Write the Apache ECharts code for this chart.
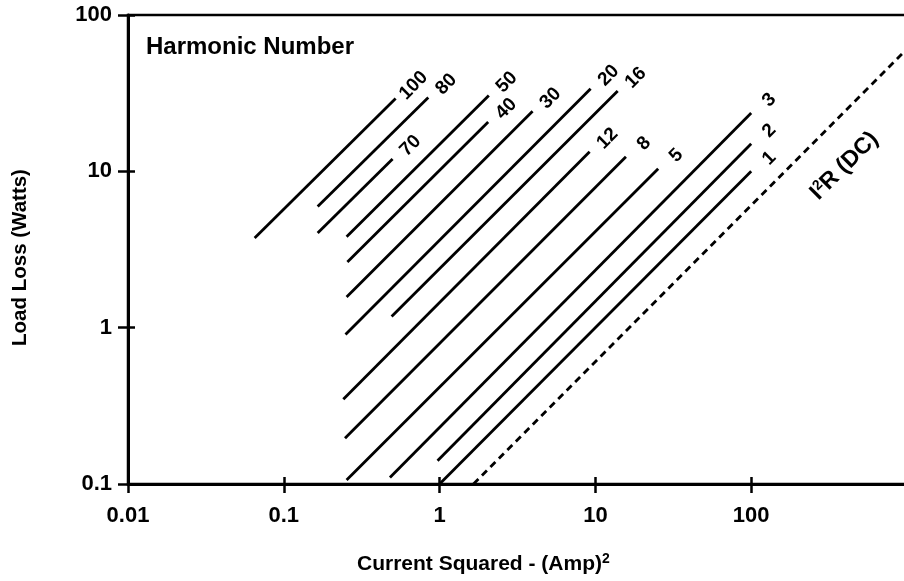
<!DOCTYPE html>
<html><head><meta charset="utf-8">
<script src="https://cdn.jsdelivr.net/npm/echarts@6/dist/echarts.min.js"></script>
<style>html,body{margin:0;padding:0;background:#fff}#c{width:904px;height:581px}</style>
</head><body><div id="c"></div>
<script>
// Harmonic-number lines, each a straight segment on log-log axes
const harmonics = ['100','80','70','50','40','30','20','16','12','8','5','3','2','1'];
const startX = [0.065, 0.165, 0.165, 0.253, 0.256, 0.253, 0.249, 0.492, 0.241, 0.247, 0.253, 0.48, 0.97, 1.0];
const startY = [3.74, 5.96, 4.03, 3.81, 2.63, 1.57, 0.903, 1.18, 0.349, 0.196, 0.106, 0.110, 0.141, 0.1];
const endX   = [0.522, 0.846, 0.499, 2.07, 2.05, 3.95, 9.32, 13.9, 9.18, 15.7, 25.3, 100, 100, 100];
const endY   = [29.2, 29.7, 12.0, 30.6, 20.7, 24.2, 33.8, 32.7, 13.35, 12.4, 10.4, 23.6, 15.0, 10.0];
// I^2R (DC) dashed line
const dcX = [1.65, 266, 1000];
const dcY = [0.1, 16.1, 60.7];
// Axis ranges / ticks
const xTicks = [0.01, 0.1, 1, 10, 100, 1000];
const xTickLabels = ['0.01', '0.1', '1', '10', '100', ''];
const yTicks = [0.1, 1, 10, 100];
const yTickLabels = ['0.1', '1', '10', '100'];

const FONT = '"Liberation Sans", Arial, Helvetica, sans-serif';
const chart = echarts.init(document.getElementById('c'));

function labelFor(list, labels, v) {
  for (let i = 0; i < list.length; i++) {
    if (Math.abs(Math.log10(v) - Math.log10(list[i])) < 1e-6) return labels[i];
  }
  return '';
}

const series = harmonics.map((h, i) => ({
  type: 'line', name: h, animation: false, silent: true,
  symbol: 'circle', symbolSize: 0, showSymbol: true,
  lineStyle: { color: '#000', width: 2.8 },
  itemStyle: { color: 'transparent' },
  data: [
    [startX[i], startY[i]],
    { value: [endX[i], endY[i]],
      label: { show: true, formatter: h, position: 'inside', rotate: 45,
               align: 'center', verticalAlign: 'middle', offset: [22, 3.5],
               color: '#000', fontFamily: FONT, fontWeight: 'bold', fontSize: 19 } }
  ]
}));

series.push({
  type: 'line', name: 'I2R (DC)', animation: false, silent: true,
  symbol: 'circle', symbolSize: 0, showSymbol: true,
  lineStyle: { color: '#000', width: 2.8, type: [7, 5] },
  itemStyle: { color: 'transparent' },
  data: dcX.map((x, i) => i === 1 ? {
    value: [x, dcY[i]],
    label: { show: true, position: 'inside', rotate: 45, align: 'center', verticalAlign: 'middle',
             offset: [0, 38], formatter: 'I{sup|2}R (DC)', color: '#000',
             fontFamily: FONT, fontWeight: 'bold', fontSize: 23,
             rich: { sup: { fontSize: 14, fontWeight: 'bold', fontFamily: FONT, color: '#000', verticalAlign: 'top', padding: [0, 0, 10, 0] } } }
  } : [x, dcY[i]])
});

const axisCommon = { type: 'log', logBase: 10, splitLine: { show: false }, minorTick: { show: false }, minorSplitLine: { show: false } };

chart.setOption({
  animation: false,
  backgroundColor: '#fff',
  title: [
    { text: 'Harmonic Number', left: 146, top: 35, padding: 0,
      textStyle: { fontFamily: FONT, fontWeight: 'bold', fontSize: 24, color: '#000' } },
    { text: 'Current Squared - (Amp){sup|2}', left: 357, top: 552, padding: 0,
      textStyle: { fontFamily: FONT, fontWeight: 'bold', fontSize: 21, color: '#000',
        rich: { sup: { fontFamily: FONT, fontWeight: 'bold', fontSize: 14, color: '#000', verticalAlign: 'top', padding: [0, 0, 10, 0] } } } }
  ],
  grid: { left: 128, right: -3, top: 15, bottom: 97, show: true, borderColor: '#000', borderWidth: 2.5,
          containLabel: false, outerBoundsMode: 'none' },
  xAxis: [
    Object.assign({}, axisCommon, {
      min: xTicks[0], max: xTicks[xTicks.length - 1], position: 'bottom',
      axisLine: { show: true, lineStyle: { color: '#000', width: 3 } },
      axisTick: { show: true, inside: false, length: 9, lineStyle: { color: '#000', width: 2.5 } },
      axisLabel: { show: true, margin: 21, color: '#000', fontFamily: FONT, fontWeight: 'bold', fontSize: 22,
                   formatter: v => labelFor(xTicks, xTickLabels, v) }
    }),
    Object.assign({}, axisCommon, {
      min: xTicks[0], max: xTicks[xTicks.length - 1], position: 'bottom',
      axisLine: { show: false },
      axisTick: { show: true, inside: true, length: 7, lineStyle: { color: '#000', width: 2.5 } },
      axisLabel: { show: false }
    })
  ],
  yAxis: [
    Object.assign({}, axisCommon, {
      min: yTicks[0], max: yTicks[yTicks.length - 1], position: 'left',
      name: 'Load Loss (Watts)', nameLocation: 'middle', nameGap: 97,
      nameTextStyle: { fontFamily: FONT, fontWeight: 'bold', fontSize: 20.5, color: '#000', padding: [0, 16, 0, 0] },
      axisLine: { show: true, lineStyle: { color: '#000', width: 3 } },
      axisTick: { show: true, inside: false, length: 10, lineStyle: { color: '#000', width: 2.5 } },
      axisLabel: { show: true, margin: 16, color: '#000', fontFamily: FONT, fontWeight: 'bold', fontSize: 22,
                   formatter: v => labelFor(yTicks, yTickLabels, v) }
    }),
    Object.assign({}, axisCommon, {
      min: yTicks[0], max: yTicks[yTicks.length - 1], position: 'left',
      axisLine: { show: false },
      axisTick: { show: true, inside: true, length: 7, lineStyle: { color: '#000', width: 2.5 } },
      axisLabel: { show: false }
    })
  ],
  series: series
});
</script></body></html>
